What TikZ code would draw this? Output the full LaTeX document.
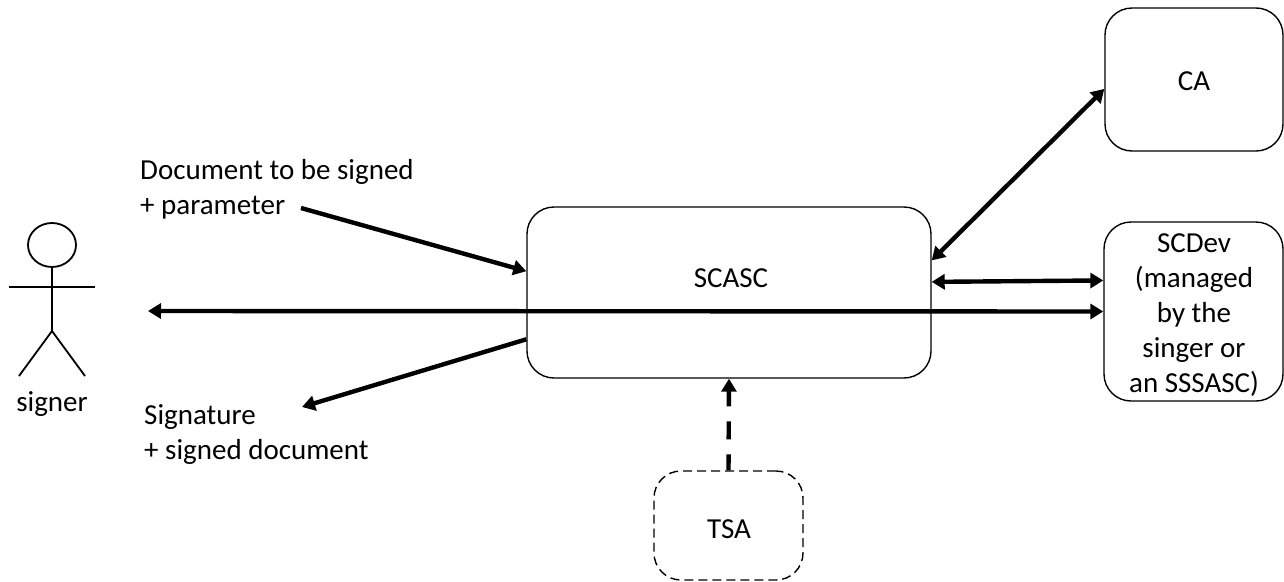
\documentclass[tikz,border=0pt]{standalone}
\usepackage{fontspec}
\setmainfont{Carlito}
\usetikzlibrary{arrows.meta}
\begin{document}
\begin{tikzpicture}[x=1pt,y=-1pt,font=\fontsize{29}{34.8}\selectfont]
      \useasboundingbox (0,0) rectangle (1284,581);
      \begin{scope}[every node/.style={draw=black,line width=1.4pt,rounded corners=27pt,inner sep=0pt}]
        \node[minimum width=404pt,minimum height=171pt] (scasc) at (729,292.5) {};
        \node[minimum width=178pt,minimum height=143pt] (ca) at (1194,79.5) {};
        \node[minimum width=179pt,minimum height=179pt] (scdev) at (1193.5,311.5) {};
        \node[dash pattern=on 9pt off 5pt,minimum width=149pt,minimum height=109pt] (tsa) at (728.5,525.5) {};
      \end{scope}
      \begin{scope}[every node/.style={align=center,inner sep=0pt}]
        \node (scascname) at (731,278) {SCASC};
        \node (caname) at (1194,81) {CA};
        \node (scdevname) at (1194,315) {SCDev\\(managed\\by the\\singer or\\an SSSASC)};
        \node (tsaname) at (729,529) {TSA};
        \node (signer) at (52,404) {signer};
      \end{scope}
      \begin{scope}[every node/.style={align=left,anchor=west,inner sep=0pt}]
        \node (input) at (140,189) {Document to be signed\\+ parameter};
        \node (output) at (144,434.5) {Signature\\+ signed document};
      \end{scope}
      % stick figure
      \begin{scope}[line width=1.8pt]
        \draw (52,245) ellipse (24 and 22);
        \draw (52,267) -- (52,331);
        \draw (9,287) -- (95,287);
        \draw (19,376) -- (52,331) -- (85,376);
      \end{scope}
      \coordinate (inputend) at (301,208);
      \coordinate (outputend) at (302,407);
      \coordinate (signerend) at (148,311);
      \begin{scope}[every edge/.style={draw=black,line width=4.4pt,>={Triangle[length=13pt,width=15pt]}}]
        \path (inputend) edge[->] (scasc.174.2);
        \path (scasc.193.8) edge[->] (outputend);
        \path (signerend) edge[<->] (scdev.west);
        \path (scasc.9.14) edge[<->] (ca.186.7);
        \path (scasc.3.26) edge[<->] (scdev.161.2);
        \path (tsa.north) edge[->,dash pattern=on 16pt off 15pt on 18pt off 15pt on 30pt off 0pt] (scasc.south);
      \end{scope}
    \end{tikzpicture}
\end{document}
